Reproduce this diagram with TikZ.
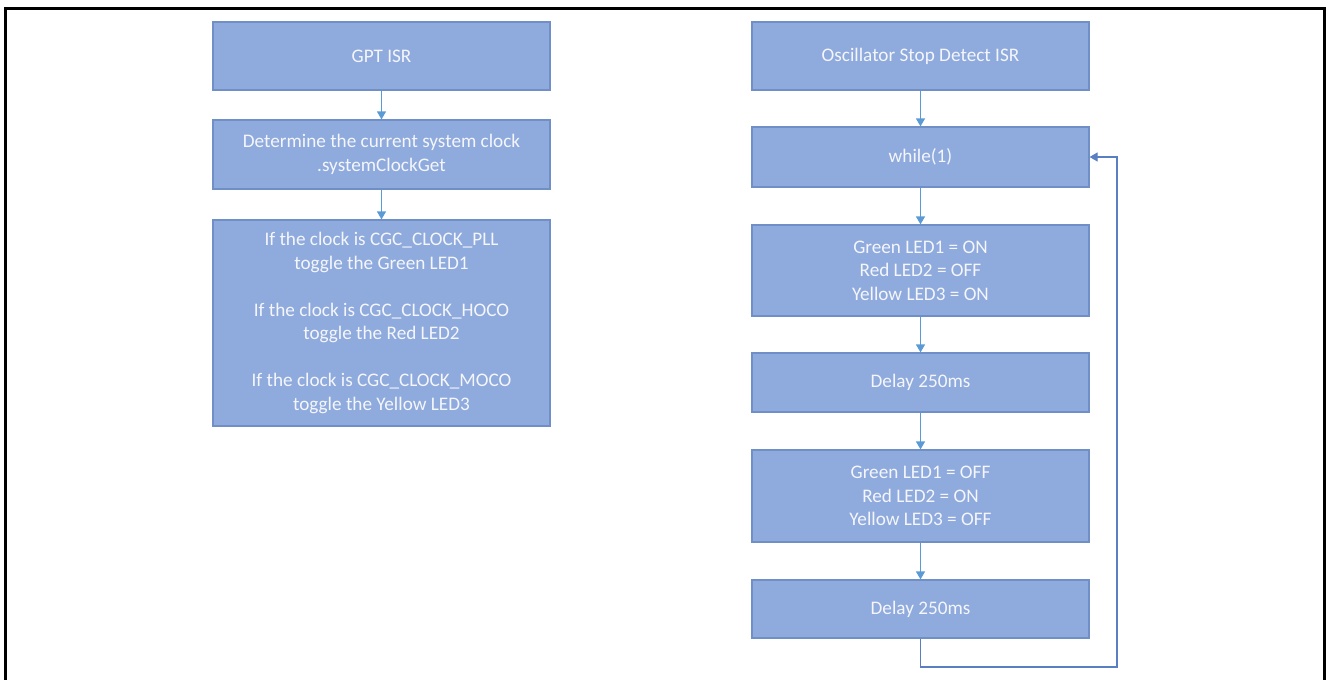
\documentclass[tikz,border=0pt]{standalone}
\usepackage{fontspec}
\setmainfont{Carlito}
\usetikzlibrary{arrows.meta}
\definecolor{boxfill}{HTML}{8FAADC}
\definecolor{boxline}{HTML}{6F8FC6}
\definecolor{flowline}{HTML}{5B9BD5}
\definecolor{loopline}{HTML}{5A7EC2}
\definecolor{boxtext}{HTML}{F4F6FB}
\begin{document}
\begin{tikzpicture}[x=1pt, y=-1pt, line join=miter,
    step box/.style={rectangle, draw=boxline, line width=1.2pt, fill=boxfill, text=boxtext,
      minimum width=337pt, inner sep=0pt, align=center, font=\fontsize{19.2}{23.5}\selectfont},
    flow/.style={draw=flowline, line width=1.2pt, -{Triangle[width=9pt,length=8pt]}},
    back/.style={draw=loopline, line width=1.2pt, -{Triangle[width=9pt,length=8pt]}}]
  \useasboundingbox (0,0) rectangle (1328,680);
  % Frame (open at the bottom)
  \draw [line width=3pt] (5,680) -- (5,8) -- (1324.5,8) -- (1324.5,680);
  % Left column
  \node [step box, minimum height=68pt] (gpt) at (381.5, 56) {GPT ISR};
  \node [step box, minimum height=69pt] (getclk) at (381.5, 154.5) {Determine the current system clock\\.systemClockGet};
  \node [step box, minimum height=206pt] (toggle) at (381.5, 323)
    {If the clock is CGC\_CLOCK\_PLL\\toggle the Green LED1\\[23.5pt]
     If the clock is CGC\_CLOCK\_HOCO\\toggle the Red LED2\\[23.5pt]
     If the clock is CGC\_CLOCK\_MOCO\\toggle the Yellow LED3};
  % Right column
  \node [step box, minimum height=68pt] (osc) at (920.5, 56) {Oscillator Stop Detect ISR};
  \node [step box, minimum height=60pt] (loop) at (920.5, 157) {while(1)};
  \node [step box, minimum height=91pt] (ledon) at (920.5, 270.5) {Green LED1 = ON\\Red LED2 = OFF\\Yellow LED3 = ON};
  \node [step box, minimum height=59pt] (delay-1) at (920.5, 382.5) {Delay 250ms};
  \node [step box, minimum height=92pt] (ledoff) at (920.5, 496) {Green LED1 = OFF\\Red LED2 = ON\\Yellow LED3 = OFF};
  \node [step box, minimum height=58pt] (delay-2) at (920.5, 609) {Delay 250ms};
  \coordinate (turn) at (1117, 667);
  % Left column arrows
  \draw [flow] (gpt) -- (getclk);
  \draw [flow] (getclk) -- (toggle);
  % Right column arrows
  \foreach \a/\b in {osc/loop, loop/ledon, ledon/delay-1, delay-1/ledoff, ledoff/delay-2}
    \draw [flow] (\a) -- (\b);
  % Back to the top of the loop
  \draw [back] (delay-2.south) |- (turn) |- (loop.east);
\end{tikzpicture}
\end{document}
